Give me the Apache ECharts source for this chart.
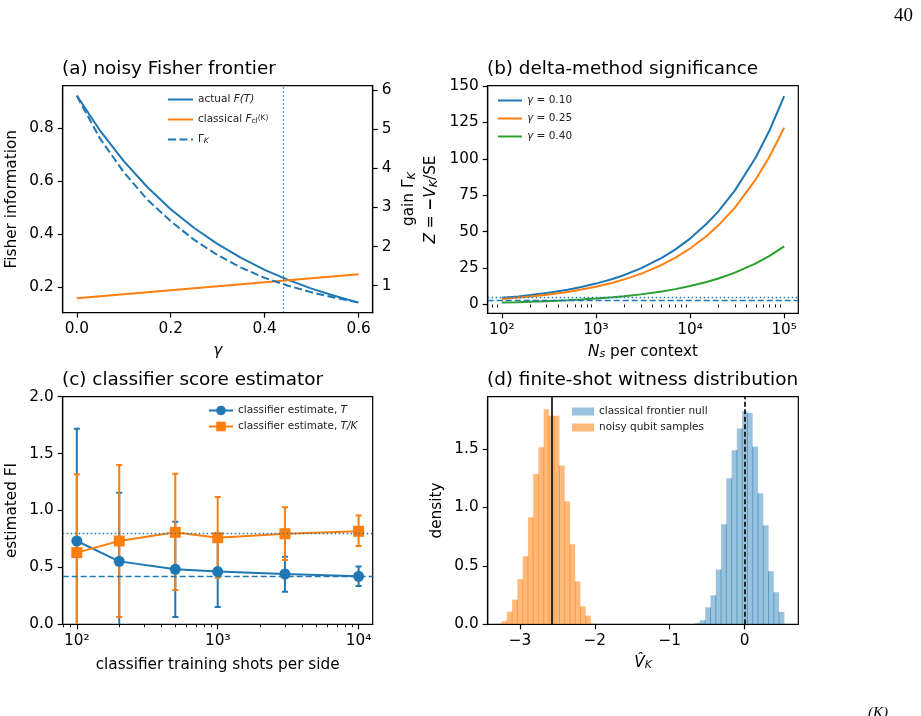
<!DOCTYPE html>
<html>
<head>
<meta charset="utf-8">
<script src="https://cdn.jsdelivr.net/npm/echarts@6/dist/echarts.min.js"></script>
<style>
  html, body { margin: 0; padding: 0; background: #fff; }
  #chart { width: 921px; height: 716px; }
</style>
</head>
<body>
<div id="chart"></div>
<script>
// ---- (a) noisy Fisher frontier ----
const gammaGrid = [0, 0.05, 0.1, 0.15, 0.2, 0.25, 0.3, 0.35, 0.4, 0.45, 0.5, 0.55, 0.6];
const fisherActual = [0.924, 0.79, 0.676, 0.578, 0.494, 0.423, 0.362, 0.31, 0.265, 0.227, 0.194, 0.166, 0.141];
const fisherClassical = [0.158, 0.1655, 0.173, 0.1805, 0.188, 0.1955, 0.203, 0.2105, 0.218, 0.2255, 0.233, 0.2405, 0.248];
const gainGamma = [5.85, 4.75, 3.9, 3.2, 2.65, 2.17, 1.78, 1.46, 1.2, 1.0, 0.83, 0.69, 0.57];
const gammaCross = 0.443;

// ---- (b) delta-method significance ----
const shotsNs = [100, 150, 200, 300, 500, 700, 1000, 1500, 2000, 3000, 5000, 7000, 10000, 15000, 20000, 30000, 50000, 70000, 100000];
const zGamma010 = [4.5, 5.5, 6.4, 7.8, 10.1, 12.0, 14.3, 17.5, 20.2, 24.8, 32.0, 37.8, 45.2, 55.4, 63.9, 78.3, 101.1, 119.6, 143.0];
const zGamma025 = [3.8, 4.7, 5.4, 6.7, 8.6, 10.2, 12.1, 14.9, 17.2, 21.0, 27.2, 32.1, 38.4, 47.0, 54.3, 66.5, 85.9, 101.6, 121.4];
const zGamma040 = [1.3, 1.5, 1.8, 2.2, 2.8, 3.3, 4.0, 4.9, 5.6, 6.9, 8.9, 10.5, 12.6, 15.4, 17.8, 21.8, 28.2, 33.3, 39.8];
const zThreeSigma = 3;
const zFiveSigma = 5;
const minorTicksB = [80, 90, 200, 300, 400, 500, 600, 700, 800, 900, 2000, 3000, 4000, 5000, 6000, 7000, 8000, 9000,
  20000, 30000, 40000, 50000, 60000, 70000, 80000, 90000];

// ---- (c) classifier score estimator ----
const trainShots = [100, 200, 500, 1000, 3000, 10000];
const estT = [0.732, 0.553, 0.483, 0.463, 0.442, 0.422];
const estTLo = [-0.255, -0.05, 0.064, 0.152, 0.287, 0.337];
const estTHi = [1.719, 1.157, 0.902, 0.774, 0.594, 0.507];
const estTK = [0.630, 0.732, 0.808, 0.761, 0.796, 0.817];
const estTKLo = [-0.058, 0.064, 0.302, 0.41, 0.565, 0.688];
const estTKHi = [1.318, 1.40, 1.324, 1.119, 1.028, 0.955];
const refT = 0.419;
const refTK = 0.802;
const minorTicksC = [80, 90, 200, 300, 400, 500, 600, 700, 800, 900, 2000, 3000, 4000, 5000, 6000, 7000, 8000, 9000];

// ---- (d) finite-shot witness distribution ----
const nullEdges = [-0.667, -0.597, -0.526, -0.456, -0.385, -0.315, -0.245, -0.174, -0.104, -0.033,
  0.037, 0.107, 0.178, 0.248, 0.319, 0.389, 0.459, 0.530];
const nullDensity = [0.011, 0.034, 0.145, 0.248, 0.468, 0.856, 1.249, 1.489, 1.674, 1.823,
  1.808, 1.520, 1.121, 0.847, 0.454, 0.274, 0.106];
const noisyEdges = [-3.244, -3.174, -3.104, -3.034, -2.963, -2.893, -2.823, -2.753, -2.683, -2.613,
  -2.543, -2.472, -2.402, -2.332, -2.262, -2.192, -2.122, -2.052, -1.982];
const noisyDensity = [0.026, 0.108, 0.211, 0.385, 0.582, 0.916, 1.286, 1.515, 1.840, 1.783,
  1.783, 1.358, 1.052, 0.685, 0.368, 0.154, 0.074, 0.006];
const noisyMean = -2.578;
const nullCentre = 0;

const FONT = 'DejaVu Sans';
const C0 = '#1f77b4', C1 = '#ff7f0e', C2 = '#2ca02c';
const TICK = 15.3;

const chart = echarts.init(document.getElementById('chart'), null, { renderer: 'canvas' });

const pairs = (xs, ys) => xs.map((x, i) => [x, ys[i]]);
const bins = (edges, dens) => dens.map((d, i) => [edges[i], edges[i + 1], d]);
const sup = n => '10' + { 2: '\u00b2', 3: '\u00b3', 4: '\u2074', 5: '\u2075' }[Math.round(Math.log10(n))];

const richText = {
  i: { fontStyle: 'italic' },
  sub: { fontSize: 7.5, verticalAlign: 'bottom', fontStyle: 'italic' },
  subr: { fontSize: 7.5, verticalAlign: 'bottom' },
  sup: { fontSize: 7.5, verticalAlign: 'top' }
};
const axisRich = {
  i: { fontStyle: 'italic', fontSize: TICK },
  sub: { fontSize: 11, fontStyle: 'italic', verticalAlign: 'bottom' },
  b: { fontWeight: 'bold', fontSize: TICK }
};

function xAxisCommon(gridIndex, extra) {
  return Object.assign({
    gridIndex,
    position: 'bottom',
    z: 5,
    axisLine: { show: true, onZero: false, lineStyle: { color: '#000', width: 1.2 } },
    axisTick: { show: true, length: 5, lineStyle: { color: '#000', width: 1.2 } },
    axisLabel: { color: '#000', fontFamily: FONT, fontSize: TICK, margin: 9 },
    splitLine: { show: false },
    nameLocation: 'middle',
    nameTextStyle: { color: '#000', fontFamily: FONT, fontSize: TICK, rich: axisRich }
  }, extra);
}
function yAxisCommon(gridIndex, extra) {
  return Object.assign({
    gridIndex,
    type: 'value',
    position: 'left',
    z: 5,
    axisLine: { show: true, onZero: false, lineStyle: { color: '#000', width: 1.2 } },
    axisTick: { show: true, length: 5, lineStyle: { color: '#000', width: 1.2 } },
    axisLabel: { color: '#000', fontFamily: FONT, fontSize: TICK, margin: 9 },
    splitLine: { show: false },
    nameLocation: 'middle',
    nameTextStyle: { color: '#000', fontFamily: FONT, fontSize: TICK, lineHeight: 17, rich: axisRich }
  }, extra);
}
function minorAxis(gridIndex, min, max, values) {
  return {
    gridIndex, type: 'log', logBase: 10, min, max, position: 'bottom', z: 5,
    axisLine: { show: false },
    axisTick: { show: true, length: 3, customValues: values, lineStyle: { color: '#000', width: 0.9 } },
    axisLabel: { show: false },
    splitLine: { show: false }
  };
}

function errorBars(color, xs, lo, hi) {
  return {
    type: 'custom',
    name: 'err-' + color,
    xAxisIndex: 3, yAxisIndex: 3,
    clip: true,
    z: 3,
    silent: true,
    data: xs.map((x, i) => [x, lo[i], hi[i]]),
    encode: { x: 0, y: [1, 2] },
    renderItem(params, api) {
      const a = api.coord([api.value(0), api.value(1)]);
      const b = api.coord([api.value(0), api.value(2)]);
      const c = 3;
      const st = { stroke: color, lineWidth: 2 };
      return {
        type: 'group',
        children: [
          { type: 'line', shape: { x1: a[0], y1: a[1], x2: b[0], y2: b[1] }, style: st },
          { type: 'line', shape: { x1: a[0] - c, y1: a[1], x2: a[0] + c, y2: a[1] }, style: st },
          { type: 'line', shape: { x1: b[0] - c, y1: b[1], x2: b[0] + c, y2: b[1] }, style: st }
        ]
      };
    }
  };
}

function histogram(name, edges, dens, fill, seam) {
  const data = bins(edges, dens);
  return {
    type: 'custom',
    name,
    xAxisIndex: 5, yAxisIndex: 4,
    itemStyle: { color: fill },
    silent: true,
    z: 2,
    data,
    encode: { x: [0, 1], y: 2 },
    renderItem(params, api) {
      const i = params.dataIndex;
      const p0 = api.coord([api.value(0), 0]);
      const p1 = api.coord([api.value(1), api.value(2)]);
      const children = [{
        type: 'rect',
        shape: { x: p0[0], y: p1[1], width: p1[0] - p0[0], height: p0[1] - p1[1] },
        style: { fill }
      }];
      if (i > 0) {
        const hs = Math.min(data[i - 1][2], data[i][2]);
        const ps = api.coord([api.value(0), hs]);
        children.push({ type: 'line', shape: { x1: p0[0], y1: p0[1], x2: p0[0], y2: ps[1] },
          style: { stroke: seam, lineWidth: 1 } });
      }
      return { type: 'group', children };
    }
  };
}

const titleStyle = { color: '#000', fontFamily: FONT, fontSize: 18.4, fontWeight: 'normal' };
const legendBase = {
  orient: 'vertical',
  padding: 0,
  selectedMode: false,
  textStyle: { color: '#222', fontFamily: FONT, fontSize: 10.5, rich: richText }
};
// line-only legend handles: hide the symbol that ECharts puts on line icons
const lineOnly = { opacity: 0 };

const legendLabels = {
  'actual F(T)': 'actual {i|F(T)}',
  'classical F_cl^(K)': 'classical {i|F}{subr|cl}{sup|(K)}',
  'Gamma_K': '\u0393{sub|K}',
  'g010': '{i|\u03b3} = 0.10',
  'g025': '{i|\u03b3} = 0.25',
  'g040': '{i|\u03b3} = 0.40',
  'classifier estimate, T': 'classifier estimate, {i|T}',
  'classifier estimate, T/K': 'classifier estimate, {i|T/K}',
  'classical frontier null': 'classical frontier null',
  'noisy qubit samples': 'noisy qubit samples'
};
const fmt = name => legendLabels[name] || name;

const option = {
  animation: false,
  backgroundColor: '#fff',
  textStyle: { fontFamily: FONT },
  title: [
    { text: '(a) noisy Fisher frontier', left: 62, top: 60, padding: 0, textStyle: titleStyle },
    { text: '(b) delta-method significance', left: 487, top: 60, padding: 0, textStyle: titleStyle },
    { text: '(c) classifier score estimator', left: 62, top: 371, padding: 0, textStyle: titleStyle },
    { text: '(d) finite-shot witness distribution', left: 487, top: 371, padding: 0, textStyle: titleStyle }
  ],
  legend: [
    Object.assign({}, legendBase, { data: ['actual F(T)', 'classical F_cl^(K)', 'Gamma_K'], left: 167, top: 94,
      itemWidth: 25, itemHeight: 10, itemGap: 9, itemStyle: lineOnly, formatter: fmt }),
    Object.assign({}, legendBase, { data: ['g010', 'g025', 'g040'], left: 497, top: 95,
      itemWidth: 24, itemHeight: 10, itemGap: 7, itemStyle: lineOnly, formatter: fmt }),
    Object.assign({}, legendBase, { data: ['classifier estimate, T', 'classifier estimate, T/K'], left: 208, top: 405,
      itemWidth: 24, itemHeight: 12, itemGap: 5, formatter: fmt }),
    Object.assign({}, legendBase, { data: [
      { name: 'classical frontier null', icon: 'rect' },
      { name: 'noisy qubit samples', icon: 'rect' }
    ], left: 572, top: 406, itemWidth: 22, itemHeight: 8, itemGap: 5, formatter: fmt })
  ],
  grid: [
    { left: 62.7, top: 85.7, width: 310, height: 227, show: true, borderColor: '#000', borderWidth: 1.2, containLabel: false, outerBoundsMode: 'none' },
    { left: 487.7, top: 85.7, width: 310.6, height: 227.6, show: true, borderColor: '#000', borderWidth: 1.2, containLabel: false, outerBoundsMode: 'none' },
    { left: 62.7, top: 396.7, width: 310, height: 227.6, show: true, borderColor: '#000', borderWidth: 1.2, containLabel: false, outerBoundsMode: 'none' },
    { left: 487.7, top: 396.7, width: 310.6, height: 227.6, show: true, borderColor: '#000', borderWidth: 1.2, containLabel: false, outerBoundsMode: 'none' }
  ],
  xAxis: [
    xAxisCommon(0, {
      type: 'value', min: -0.03, max: 0.63,
      axisTick: { show: true, length: 5, customValues: [0, 0.2, 0.4, 0.6], lineStyle: { color: '#000', width: 1.2 } },
      axisLabel: { color: '#000', fontFamily: FONT, fontSize: TICK, margin: 9, customValues: [0, 0.2, 0.4, 0.6],
        formatter: v => v.toFixed(1) },
      name: '{i|\u03b3}', nameGap: 31
    }),
    xAxisCommon(1, {
      type: 'log', logBase: 10, min: 70.8, max: 141254,
      axisTick: { show: true, length: 5, customValues: [100, 1000, 10000, 100000], lineStyle: { color: '#000', width: 1.2 } },
      axisLabel: { color: '#000', fontFamily: FONT, fontSize: TICK, margin: 9, customValues: [100, 1000, 10000, 100000],
        formatter: sup },
      name: '{i|N}{sub|s} per context', nameGap: 31
    }),
    minorAxis(1, 70.8, 141254, minorTicksB),
    xAxisCommon(2, {
      type: 'log', logBase: 10, min: 79.4, max: 12589,
      axisTick: { show: true, length: 5, customValues: [100, 1000, 10000], lineStyle: { color: '#000', width: 1.2 } },
      axisLabel: { color: '#000', fontFamily: FONT, fontSize: TICK, margin: 9, customValues: [100, 1000, 10000],
        formatter: sup },
      name: 'classifier training shots per side', nameGap: 33
    }),
    minorAxis(2, 79.4, 12589, minorTicksC),
    xAxisCommon(3, {
      type: 'value', min: -3.43, max: 0.716,
      axisTick: { show: true, length: 5, customValues: [-3, -2, -1, 0], lineStyle: { color: '#000', width: 1.2 } },
      axisLabel: { color: '#000', fontFamily: FONT, fontSize: TICK, margin: 9, customValues: [-3, -2, -1, 0],
        formatter: v => (v < 0 ? '\u2212' + Math.abs(v) : String(v)) },
      name: '{i|V\u0302}{sub|K}', nameGap: 31
    })
  ],
  yAxis: [
    yAxisCommon(0, {
      min: 0.103, max: 0.961,
      axisTick: { show: true, length: 5, customValues: [0.2, 0.4, 0.6, 0.8], lineStyle: { color: '#000', width: 1.2 } },
      axisLabel: { color: '#000', fontFamily: FONT, fontSize: TICK, margin: 9, customValues: [0.2, 0.4, 0.6, 0.8],
        formatter: v => v.toFixed(1) },
      name: 'Fisher information', nameGap: 42
    }),
    yAxisCommon(0, {
      position: 'right', min: 0.31, max: 6.11,
      axisTick: { show: true, length: 5, customValues: [1, 2, 3, 4, 5, 6], lineStyle: { color: '#000', width: 1.2 } },
      axisLabel: { color: '#000', fontFamily: FONT, fontSize: TICK, margin: 9, customValues: [1, 2, 3, 4, 5, 6] },
      name: 'gain \u0393{sub|K}', nameGap: 28
    }),
    yAxisCommon(1, {
      min: -6.1, max: 150.2,
      axisTick: { show: true, length: 5, customValues: [0, 25, 50, 75, 100, 125, 150], lineStyle: { color: '#000', width: 1.2 } },
      axisLabel: { color: '#000', fontFamily: FONT, fontSize: TICK, margin: 9, customValues: [0, 25, 50, 75, 100, 125, 150] },
      name: '{i|Z} = {b|\u2212}{i|V}{sub|K}/SE', nameGap: 48
    }),
    yAxisCommon(2, {
      min: 0, max: 2,
      axisTick: { show: true, length: 5, customValues: [0, 0.5, 1, 1.5, 2], lineStyle: { color: '#000', width: 1.2 } },
      axisLabel: { color: '#000', fontFamily: FONT, fontSize: TICK, margin: 9, customValues: [0, 0.5, 1, 1.5, 2],
        formatter: v => v.toFixed(1) },
      name: 'estimated FI', nameGap: 42
    }),
    yAxisCommon(3, {
      min: 0, max: 1.947,
      axisTick: { show: true, length: 5, customValues: [0, 0.5, 1, 1.5], lineStyle: { color: '#000', width: 1.2 } },
      axisLabel: { color: '#000', fontFamily: FONT, fontSize: TICK, margin: 9, customValues: [0, 0.5, 1, 1.5],
        formatter: v => v.toFixed(1) },
      name: 'density', nameGap: 42
    })
  ],
  series: [
    // (a)
    {
      type: 'line', name: 'actual F(T)', xAxisIndex: 0, yAxisIndex: 0,
      data: pairs(gammaGrid, fisherActual),
      symbol: 'none', color: C0, lineStyle: { width: 2, color: C0 },
      markLine: {
        silent: true, symbol: ['none', 'none'], label: { show: false },
        lineStyle: { color: C0, type: [1.5, 2.5], width: 1.4 },
        data: [{ xAxis: gammaCross }]
      }
    },
    {
      type: 'line', name: 'classical F_cl^(K)', xAxisIndex: 0, yAxisIndex: 0,
      data: pairs(gammaGrid, fisherClassical), symbol: 'none', color: C1, lineStyle: { width: 2, color: C1 }
    },
    {
      type: 'line', name: 'Gamma_K', xAxisIndex: 0, yAxisIndex: 1,
      data: pairs(gammaGrid, gainGamma),
      symbol: 'none', color: C0, lineStyle: { width: 2, color: C0, type: [8, 3.5] }
    },
    // (b)
    {
      type: 'line', name: 'g010', xAxisIndex: 1, yAxisIndex: 2, data: pairs(shotsNs, zGamma010),
      symbol: 'none', color: C0, lineStyle: { width: 2, color: C0 },
      markLine: {
        silent: true, symbol: ['none', 'none'], label: { show: false },
        data: [
          { yAxis: zThreeSigma, lineStyle: { color: C0, type: [6, 3], width: 1.4 } },
          { yAxis: zFiveSigma, lineStyle: { color: C0, type: [1.5, 2.5], width: 1.4 } }
        ]
      }
    },
    {
      type: 'line', name: 'g025', xAxisIndex: 1, yAxisIndex: 2, data: pairs(shotsNs, zGamma025),
      symbol: 'none', color: C1, lineStyle: { width: 2, color: C1 }
    },
    {
      type: 'line', name: 'g040', xAxisIndex: 1, yAxisIndex: 2, data: pairs(shotsNs, zGamma040),
      symbol: 'none', color: C2, lineStyle: { width: 2, color: C2 }
    },
    // (c)
    {
      type: 'line', name: 'ref', xAxisIndex: 3, yAxisIndex: 3, data: [], silent: true,
      markLine: {
        silent: true, symbol: ['none', 'none'], label: { show: false },
        data: [
          { yAxis: refT, lineStyle: { color: C0, type: [6, 3], width: 1.4 } },
          { yAxis: refTK, lineStyle: { color: C0, type: [1.5, 2.5], width: 1.4 } }
        ]
      }
    },
    errorBars(C0, trainShots, estTLo, estTHi),
    {
      type: 'line', name: 'classifier estimate, T', xAxisIndex: 3, yAxisIndex: 3, z: 4,
      data: pairs(trainShots, estT), symbol: 'circle', symbolSize: 11, showSymbol: true,
      color: C0, itemStyle: { color: C0 }, lineStyle: { width: 2, color: C0 }
    },
    errorBars(C1, trainShots, estTKLo, estTKHi),
    {
      type: 'line', name: 'classifier estimate, T/K', xAxisIndex: 3, yAxisIndex: 3, z: 4,
      data: pairs(trainShots, estTK), symbol: 'rect', symbolSize: 11, showSymbol: true,
      color: C1, itemStyle: { color: C1 }, lineStyle: { width: 2, color: C1 }
    },
    // (d)
    histogram('classical frontier null', nullEdges, nullDensity, 'rgba(31,119,180,0.45)', 'rgba(31,119,180,0.55)'),
    histogram('noisy qubit samples', noisyEdges, noisyDensity, 'rgba(255,127,14,0.55)', 'rgba(255,127,14,0.6)'),
    {
      type: 'line', name: 'vlines', xAxisIndex: 5, yAxisIndex: 4, data: [], silent: true,
      markLine: {
        silent: true, symbol: ['none', 'none'], label: { show: false },
        data: [
          { xAxis: noisyMean, lineStyle: { color: '#000', type: 'solid', width: 1.6 } },
          { xAxis: nullCentre, lineStyle: { color: '#000', type: [5, 2.5], width: 1.6 } }
        ]
      }
    }
  ],
  graphic: [
    { type: 'text', left: 894, top: 7, style: { text: '40', fontFamily: 'Liberation Serif', fontSize: 19, fill: '#000' } },
    { type: 'text', left: 868, top: 706, style: { text: '(K)', fontFamily: 'Liberation Serif', fontStyle: 'italic', fontSize: 15, fill: '#000' } }
  ]
};

chart.setOption(option);
</script>
</body>
</html>
